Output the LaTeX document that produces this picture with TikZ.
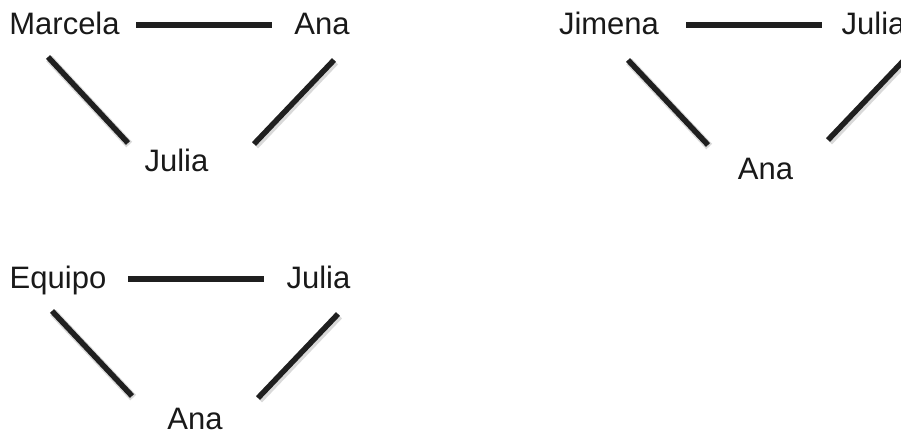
\documentclass[tikz,border=0pt]{standalone}
\usepackage{fontspec}
\setmainfont{Liberation Sans}
\begin{document}
\begin{tikzpicture}[x=1pt,y=1pt,
  person/.style={anchor=base,inner sep=0pt,font=\fontsize{31}{36}\selectfont,text=black!90},
  tie/.style={line width=5.5pt,draw=black!88,line cap=butt},
  halo/.style={line width=8pt,draw=black,opacity=0.15,line cap=butt,transform canvas={shift={(1.2pt,-1.6pt)}}}]
\useasboundingbox (0,0) rectangle (901,434);
\clip (0,0) rectangle (901,434);

% first triangle
\node[person] (marcela) at (64.5,399) {Marcela};
\node[person] (anaA)    at (322,399)  {Ana};
\node[person] (juliaA)  at (176.5,262) {Julia};
\coordinate (a1) at (136,409); \coordinate (a2) at (272,409);
\coordinate (a3) at (48,377);  \coordinate (a4) at (128,291);
\coordinate (a5) at (334,374); \coordinate (a6) at (254,290);

% second triangle
\node[person] (jimena) at (609,399)   {Jimena};
\node[person] (juliaB) at (873.5,399) {Julia};
\node[person] (anaB)   at (765.5,254) {Ana};
\coordinate (b1) at (686,409); \coordinate (b2) at (822,409);
\coordinate (b3) at (628,374); \coordinate (b4) at (708,289);
\coordinate (b5) at (828,294); \coordinate (b6) at (908,378);

% third triangle
\node[person] (equipo) at (58,146)    {Equipo};
\node[person] (juliaC) at (318.5,146) {Julia};
\node[person] (anaC)   at (195,5)     {Ana};
\coordinate (c1) at (128,155); \coordinate (c2) at (264,155);
\coordinate (c3) at (52,123);  \coordinate (c4) at (132,38);
\coordinate (c5) at (338,120); \coordinate (c6) at (258,36);

% soft shadows under the slanted ties
\foreach \s/\e in {a3/a4,a5/a6,b3/b4,b5/b6,c3/c4,c5/c6}
  \draw[halo] (\s) -- (\e);

% ties
\foreach \s/\e in {a1/a2,a3/a4,a5/a6,b1/b2,b3/b4,b5/b6,c1/c2,c3/c4,c5/c6}
  \draw[tie] (\s) -- (\e);
\end{tikzpicture}
\end{document}
